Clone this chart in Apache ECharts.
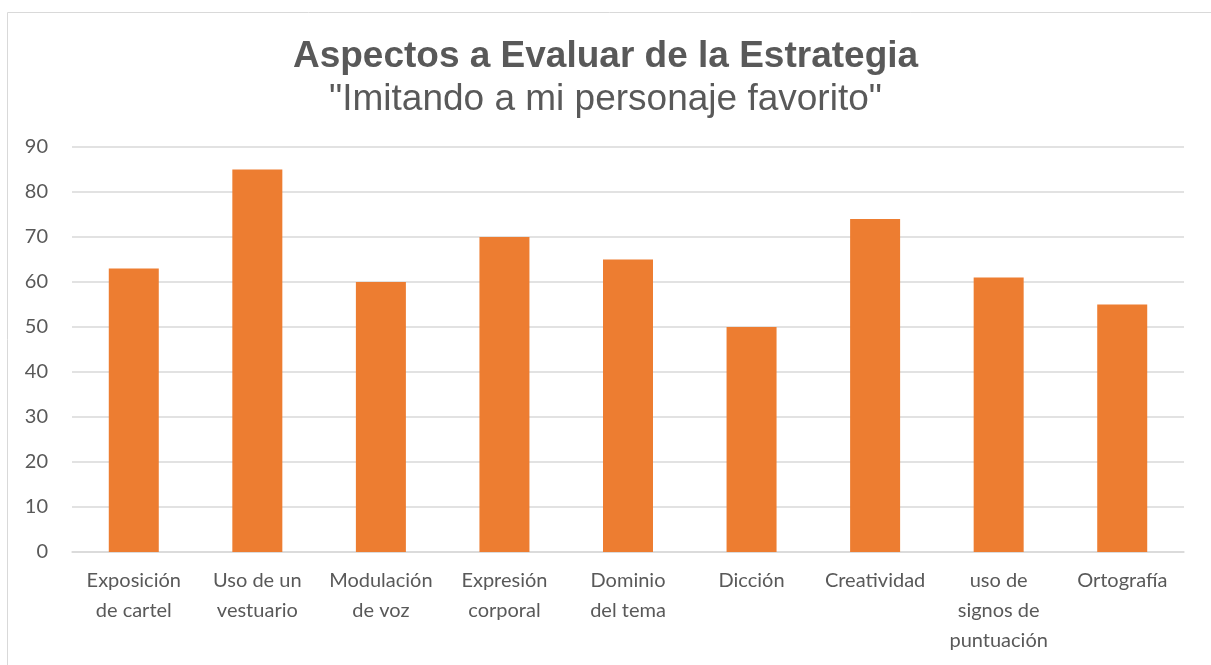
<!DOCTYPE html>
<html>
<head>
<meta charset="utf-8">
<script src="https://cdn.jsdelivr.net/npm/echarts@6/dist/echarts.min.js"></script>
<style>
  html, body { margin: 0; padding: 0; background: #fff; }
  #chart { width: 1211px; height: 665px; }
</style>
</head>
<body>
<div id="chart"></div>
<script>
// categories and values
var categorias = [
  'Exposición\nde cartel',
  'Uso de un\nvestuario',
  'Modulación\nde voz',
  'Expresión\ncorporal',
  'Dominio\ndel tema',
  'Dicción',
  'Creatividad',
  'uso de\nsignos de\npuntuación',
  'Ortografía'
];
var valores = [63, 85, 60, 70, 65, 50, 74, 61, 55];

var titulo = 'Aspectos a Evaluar de la Estrategia';
var subtitulo = '"Imitando a mi personaje favorito"';

var myChart = echarts.init(document.getElementById('chart'));
myChart.setOption({
  animation: false,
  graphic: [{
    type: 'rect',
    left: 5,
    top: 10,
    shape: { width: 1400, height: 800 },
    style: { fill: 'none', stroke: '#d9d9d9', lineWidth: 1 },
    silent: true
  }],
  title: {
    text: titulo,
    subtext: subtitulo,
    left: 'center',
    top: 33,
    itemGap: 6,
    textStyle: {
      fontFamily: 'Liberation Sans',
      fontSize: 37,
      fontWeight: 'bold',
      color: '#595959'
    },
    subtextStyle: {
      fontFamily: 'Liberation Sans',
      fontSize: 37,
      color: '#595959'
    }
  },
  grid: {
    left: 72,
    right: 27,
    top: 147,
    bottom: 113
  },
  xAxis: {
    type: 'category',
    data: categorias,
    axisTick: { show: false },
    axisLine: { lineStyle: { color: '#d9d9d9', width: 1.5 } },
    axisLabel: {
      interval: 0,
      margin: 14,
      fontFamily: 'Lato',
      fontSize: 20,
      lineHeight: 30,
      color: '#595959'
    }
  },
  yAxis: {
    type: 'value',
    min: 0,
    max: 90,
    interval: 10,
    axisLine: { show: false },
    axisTick: { show: false },
    splitLine: { lineStyle: { color: '#d9d9d9', width: 1.5 } },
    axisLabel: {
      margin: 24,
      fontFamily: 'Lato',
      fontSize: 20,
      color: '#595959'
    }
  },
  series: [{
    type: 'bar',
    data: valores,
    barWidth: 50,
    itemStyle: { color: '#ed7d31' }
  }]
});
</script>
</body>
</html>
